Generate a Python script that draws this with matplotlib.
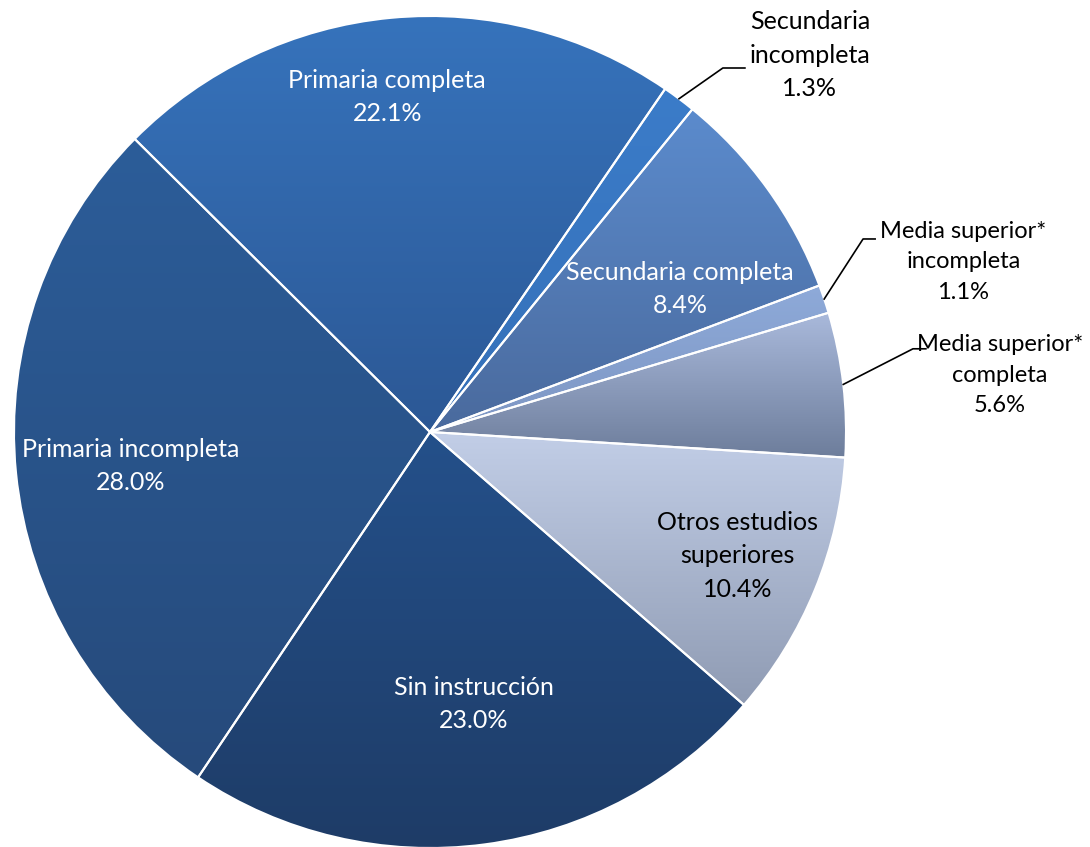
import numpy as np
import matplotlib.pyplot as plt
from matplotlib.colors import to_rgb

# Datos del gráfico (porcentaje de población por nivel de instrucción)
etiquetas = ["Sin instrucción", "Primaria incompleta", "Primaria completa",
             "Secundaria\nincompleta", "Secundaria completa",
             "Media superior*\nincompleta", "Media superior*\ncompleta",
             "Otros estudios\nsuperiores"]
porcentajes = [23.0, 28.0, 22.1, 1.3, 8.4, 1.1, 5.6, 10.4]

# Colores degradados (arriba, abajo) de cada rebanada
color_arriba = ["#24508a", "#2c5d99", "#3673bc", "#3b7cc9", "#5b8bcd",
                "#8eaad9", "#a9b9db", "#c2cee7"]
color_abajo = ["#1e3c67", "#264a7b", "#2c5895", "#3570b8", "#4a6a9d",
               "#7d96c3", "#6d7d9b", "#8f9bb3"]
color_texto = ["white", "white", "white", "black", "white",
               "black", "black", "black"]

# Posición de los textos (coordenadas del eje)
pos_texto = [(0.106, -0.654), (-0.719, -0.082), (-0.103, 0.805),
             (0.913, 0.906), (0.601, 0.344), (1.282, 0.409),
             (1.370, 0.137), (0.740, -0.298)]
# Líneas guía para etiquetas exteriores: índice -> (codo, fin)
guias = {3: ((0.704, 0.875), (0.757, 0.875)),
         5: ((1.041, 0.464), (1.070, 0.464)),
         6: ((1.161, 0.200), (1.192, 0.200))}
tam_fuente = [18, 18, 18, 18, 18, 17, 17, 18]

plt.rcParams['font.family'] = ['Lato', 'DejaVu Sans']

fig = plt.figure(figsize=(10.9, 8.47), dpi=100)
cx, cy, r = 430, 432, 416
ax = fig.add_axes([(cx - r) / 1090, (847 - cy - r) / 847, 2 * r / 1090, 2 * r / 847])

wedges, _ = ax.pie(porcentajes, startangle=-41, counterclock=False, radius=1,
                   wedgeprops=dict(edgecolor='white', linewidth=1.5))

for i, w in enumerate(wedges):
    ext = w.get_path().get_extents()
    c1 = np.array(to_rgb(color_arriba[i]))
    c2 = np.array(to_rgb(color_abajo[i]))
    t = np.linspace(0, 1, 256)[:, None, None]
    grad = c1 * (1 - t) + c2 * t
    im = ax.imshow(grad, extent=[ext.x0, ext.x1, ext.y0, ext.y1], origin='upper',
                   aspect='auto', interpolation='bilinear', zorder=0)
    im.set_clip_path(w)
    w.set_facecolor('none')
    w.set_zorder(2)

for i, w in enumerate(wedges):
    texto = f"{etiquetas[i]}\n{porcentajes[i]:.1f}%"
    ax.text(pos_texto[i][0], pos_texto[i][1], texto, ha='center', va='center',
            fontsize=tam_fuente[i], color=color_texto[i], linespacing=1.55, zorder=5)
    if i in guias:
        ang = np.deg2rad((w.theta1 + w.theta2) / 2)
        x0, y0 = np.cos(ang), np.sin(ang)
        (xa, ya), (xb, yb) = guias[i]
        ax.plot([x0, xa, xb], [y0, ya, yb], color='black', lw=1.2,
                clip_on=False, zorder=5)

ax.set_aspect('equal')
ax.set_xlim(-1, 1)
ax.set_ylim(-1, 1)
ax.axis('off')

fig.savefig("out.png", dpi=100)
